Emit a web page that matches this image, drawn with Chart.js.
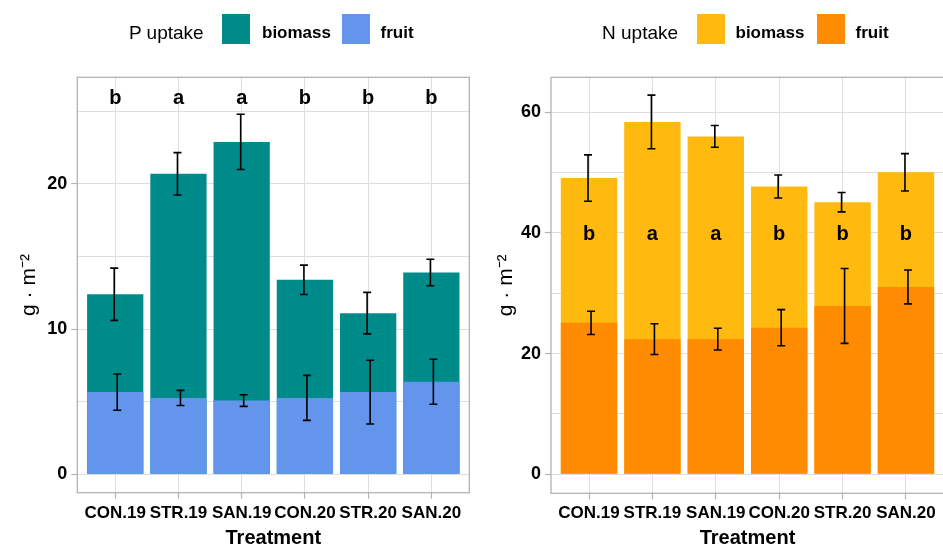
<!DOCTYPE html>
<html><head><meta charset="utf-8">
<script src="https://cdn.jsdelivr.net/npm/chart.js@4.4.1/dist/chart.umd.min.js"></script>
<style>
html,body{margin:0;padding:0;background:#fff;overflow:hidden;}
#wrap{position:relative;width:943px;height:547px;overflow:hidden;font-family:"Liberation Sans",Arial,sans-serif;background:#fff;}
.panel{position:absolute;top:0;height:547px;}
.lg{position:absolute;white-space:nowrap;line-height:1;color:#000;}
.lt{font-size:19px;top:22.6px;}
.li{font-size:17px;font-weight:bold;top:24px;}
.sw{position:absolute;top:14px;width:28px;height:30px;}
</style></head><body>
<div id="wrap">
  <div class="panel" style="left:0;width:470px"><canvas id="cP" width="470" height="547"></canvas></div>
  <div class="panel" style="left:470px;width:476px"><canvas id="cN" width="476" height="547"></canvas></div>
  <div class="lg lt" style="left:129px">P uptake</div>
  <div class="sw" style="left:222px;background:#008B8B"></div>
  <div class="lg li" style="left:262px">biomass</div>
  <div class="sw" style="left:342px;background:#6495ED"></div>
  <div class="lg li" style="left:380.5px">fruit</div>
  <div class="lg lt" style="left:602px">N uptake</div>
  <div class="sw" style="left:697px;background:#FFB90F"></div>
  <div class="lg li" style="left:735.5px">biomass</div>
  <div class="sw" style="left:816.5px;background:#FF8C00"></div>
  <div class="lg li" style="left:855.5px">fruit</div>
</div>
<script>
const categories = ['CON.19','STR.19','SAN.19','CON.20','STR.20','SAN.20'];

const pBiomass    = [12.4, 20.7, 22.9, 13.4, 11.1, 13.9];
const pBiomassErr = [1.8, 1.46, 1.9, 1.01, 1.43, 0.91];
const pFruit      = [5.66, 5.26, 5.08, 5.26, 5.66, 6.37];
const pFruitErr   = [1.25, 0.52, 0.4, 1.55, 2.2, 1.55];
const pLetters    = ['b','a','a','b','b','b'];
const pLetterY    = 26;
const pTicks      = [0, 10, 20];
const pMinorTicks = [5, 15, 25];

const nBiomass    = [49.1, 58.4, 56.0, 47.7, 45.1, 50.05];
const nBiomassErr = [3.85, 4.45, 1.8, 1.9, 1.6, 3.1];
const nFruit      = [25.1, 22.4, 22.4, 24.3, 27.9, 31.05];
const nFruitErr   = [1.93, 2.55, 1.8, 3.0, 6.2, 2.8];
const nLetters    = ['b','a','a','b','b','b'];
const nLetterY    = 40;
const nTicks      = [0, 20, 40, 60];
const nMinorTicks = [10, 30, 50];

Chart.defaults.font.family = "'Liberation Sans', Arial, sans-serif";

const overlay = {
  id: 'overlay',
  afterDatasetsDraw(chart) {
    const {ctx, chartArea: a, scales: {x, y}} = chart;
    const cfg = chart.options.plugins.overlay;
    ctx.save();
    ctx.strokeStyle = '#B3B3B3'; ctx.lineWidth = 1.3;
    ctx.strokeRect(a.left, a.top, a.right - a.left, a.bottom - a.top);
    ctx.strokeStyle = '#000'; ctx.lineWidth = 1.6;
    chart.data.datasets.forEach(ds => {
      ds.data.forEach((p, i) => {
        const px = x.getPixelForValue(p.x) + ds.errDx;
        const y1 = y.getPixelForValue(p.y + ds.err[i]);
        const y2 = y.getPixelForValue(p.y - ds.err[i]);
        ctx.beginPath();
        ctx.moveTo(px, y1); ctx.lineTo(px, y2);
        ctx.moveTo(px - 4, y1); ctx.lineTo(px + 4, y1);
        ctx.moveTo(px - 4, y2); ctx.lineTo(px + 4, y2);
        ctx.stroke();
      });
    });
    ctx.fillStyle = '#000';
    ctx.font = "bold 20px 'Liberation Sans', Arial, sans-serif";
    ctx.textAlign = 'center'; ctx.textBaseline = 'alphabetic';
    cfg.letters.forEach((L, i) => {
      ctx.fillText(L, x.getPixelForValue(i), y.getPixelForValue(cfg.letterY) + 7.4);
    });
    ctx.restore();
  }
};

function buildChart(id, o) {
  const majors = o.ticks;
  const all = [...o.ticks, ...o.minor].sort((a, b) => a - b);
  return new Chart(document.getElementById(id), {
    type: 'bar',
    data: {
      datasets: [
        {label: 'fruit', data: o.fruit.map((v, i) => ({x: i, y: v})), backgroundColor: o.fruitColor,
         err: o.fruitErr, errDx: 2, grouped: false, categoryPercentage: 1, barPercentage: 0.89, borderWidth: 0},
        {label: 'biomass', data: o.biomass.map((v, i) => ({x: i, y: v})), backgroundColor: o.bioColor,
         err: o.bioErr, errDx: -1, grouped: false, categoryPercentage: 1, barPercentage: 0.89, borderWidth: 0}
      ]
    },
    options: {
      responsive: false, animation: false,
      layout: {padding: {top: 77.3, left: 0, bottom: 0, right: o.padRight}},
      plugins: {legend: {display: false}, tooltip: {enabled: false},
                overlay: {letters: o.letters, letterY: o.letterY}},
      scales: {
        x: {
          type: 'linear', min: -0.6, max: 5.6, offset: false,
          afterBuildTicks: s => { s.ticks = categories.map((c, i) => ({value: i})); },
          afterFit: s => { s.height = o.xHeight; },
          ticks: {autoSkip: false, maxRotation: 0, minRotation: 0, padding: 4, color: '#000',
                  font: {size: 17, weight: 'bold'}, callback: v => categories[v]},
          grid: {color: '#DEDEDE', lineWidth: 1, tickLength: 6, tickColor: '#B3B3B3', tickWidth: 1.2, offset: false},
          border: {display: false},
          title: {display: true, text: 'Treatment', color: '#000',
                  font: {size: 20, weight: 'bold', lineHeight: 0.9}, padding: {top: 0, bottom: 0}}
        },
        y: {
          type: 'linear', min: o.yMin, max: o.yMax,
          afterBuildTicks: s => { s.ticks = all.map(v => ({value: v})); },
          afterFit: s => { s.width = o.yWidth; },
          ticks: {padding: 4, color: '#000', font: {size: 18, weight: 'bold'},
                  callback: v => majors.includes(v) ? String(v) : ''},
          grid: {color: '#DEDEDE', lineWidth: 1, tickLength: 6, tickWidth: 1.2,
                 tickColor: c => (c.tick && majors.includes(c.tick.value)) ? '#B3B3B3' : 'rgba(0,0,0,0)'},
          border: {display: false},
          title: {display: true, text: 'g · m⁻²', color: '#000',
                  font: {size: 21, lineHeight: 1}, padding: {top: o.titlePad, bottom: 0}}
        }
      }
    },
    plugins: [overlay]
  });
}

buildChart('cP', {
  biomass: pBiomass, bioErr: pBiomassErr, fruit: pFruit, fruitErr: pFruitErr,
  bioColor: '#008B8B', fruitColor: '#6495ED',
  letters: pLetters, letterY: pLetterY, ticks: pTicks, minor: pMinorTicks,
  yMin: -1.27, yMax: 27.35, yWidth: 77.3, xHeight: 54.3, padRight: 0.7, titlePad: 19
});
buildChart('cN', {
  biomass: nBiomass, bioErr: nBiomassErr, fruit: nFruit, fruitErr: nFruitErr,
  bioColor: '#FFB90F', fruitColor: '#FF8C00',
  letters: nLetters, letterY: nLetterY, ticks: nTicks, minor: nMinorTicks,
  yMin: -3.15, yMax: 65.8, yWidth: 81, xHeight: 53.7, padRight: 2, titlePad: 26
});
</script>
</body></html>
